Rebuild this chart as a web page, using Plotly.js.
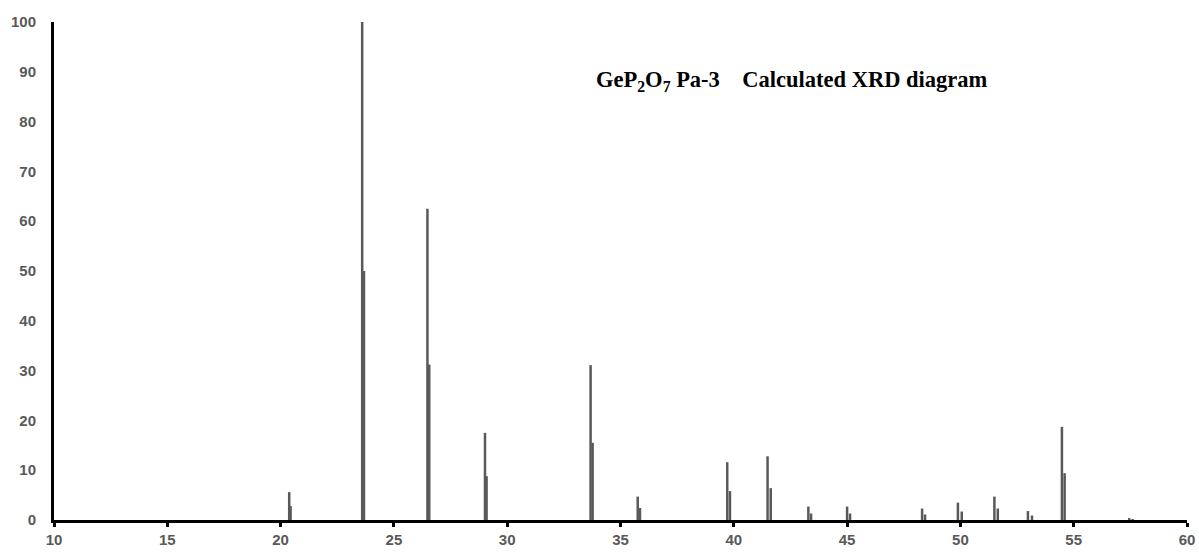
<!DOCTYPE html>
<html>
<head>
<meta charset="utf-8">
<script src="https://cdn.plot.ly/plotly-3.0.1.min.js"></script>
<style>html,body{margin:0;padding:0;background:#fff;}#chart{width:1199px;height:552px;}</style>
</head>
<body>
<div id="chart"></div>
<script>
// Kα1 reflections: 2θ (deg) and relative intensity
const ka1Angles = [20.38, 23.60, 26.48, 29.02, 33.68, 35.76, 39.71, 41.49, 43.29, 45.00, 48.31, 49.89, 51.50, 52.98, 54.48, 57.45];
const ka1Intensity = [5.6, 100, 62.5, 17.5, 31.1, 4.7, 11.6, 12.8, 2.7, 2.7, 2.3, 3.5, 4.7, 1.8, 18.7, 0.4];
// Kα2 reflections
const ka2Angles = [20.44, 23.68, 26.56, 29.09, 33.77, 35.86, 39.83, 41.63, 43.41, 45.13, 48.44, 50.06, 51.65, 53.16, 54.60, 57.60];
const ka2Intensity = [2.8, 50, 31.2, 8.8, 15.5, 2.4, 5.8, 6.4, 1.3, 1.3, 1.1, 1.7, 2.3, 0.9, 9.4, 0.2];

const xTicks = [10, 15, 20, 25, 30, 35, 40, 45, 50, 55, 60];
const yTicks = [0, 10, 20, 30, 40, 50, 60, 70, 80, 90, 100];

function sticks(angles, ints) {
  const x = [], y = [];
  angles.forEach((a, i) => { x.push(a, a, null); y.push(0, ints[i], null); });
  return {x, y};
}
const s1 = sticks(ka1Angles, ka1Intensity);
const s2 = sticks(ka2Angles, ka2Intensity);

const traces = [
  {x: s1.x, y: s1.y, type: 'scatter', mode: 'lines', line: {color: '#595959', width: 2.5}, hoverinfo: 'skip', showlegend: false},
  {x: s2.x, y: s2.y, type: 'scatter', mode: 'lines', line: {color: '#595959', width: 2.5}, hoverinfo: 'skip', showlegend: false}
];

const tickFont = {family: 'Liberation Sans, Arial, sans-serif', size: 15, color: '#595959', weight: 'bold'};

const layout = {
  width: 1199, height: 552,
  margin: {l: 54, r: 12, t: 22, b: 32},
  paper_bgcolor: '#fff', plot_bgcolor: '#fff',
  xaxis: {
    range: [10, 60], tickmode: 'array', tickvals: xTicks, ticktext: xTicks.map(String),
    showgrid: false, zeroline: false, showline: true, linecolor: '#000', linewidth: 3,
    ticks: 'outside', ticklen: 4, tickwidth: 3, tickcolor: '#000',
    tickfont: tickFont, fixedrange: true
  },
  yaxis: {
    range: [0, 100], tickmode: 'array', tickvals: yTicks, ticktext: yTicks.map(String),
    showgrid: false, zeroline: false, showline: true, linecolor: '#000', linewidth: 3,
    ticks: '', ticklabelstandoff: 12,
    tickfont: tickFont, fixedrange: true
  },
  annotations: [{
    xref: 'paper', yref: 'paper', x: 0.6515, y: 0.881, xanchor: 'center', yanchor: 'middle',
    showarrow: false,
    text: '<b>GeP<sub>2</sub>O<sub>7</sub> Pa-3\u00a0\u00a0\u00a0\u00a0Calculated XRD diagram</b>',
    font: {family: 'Liberation Serif, Times New Roman, serif', size: 22.5, color: '#000'}
  }]
};

Plotly.newPlot('chart', traces, layout, {displayModeBar: false, staticPlot: true});
</script>
</body>
</html>
